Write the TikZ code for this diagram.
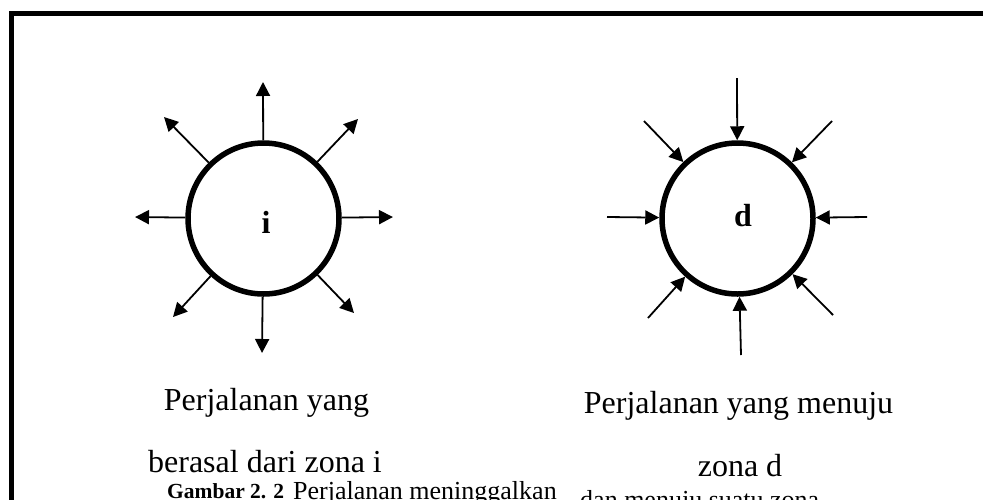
\documentclass[tikz,border=0pt]{standalone}
\usepackage{fontspec}
\setmainfont{Liberation Serif}
\usetikzlibrary{arrows.meta}
\begin{document}
\begin{tikzpicture}[x=1pt,y=-1pt,
  frame/.style={line width=5pt, line join=miter},
  zone/.style={circle, draw, line width=5.5pt, minimum size=151pt, inner sep=0pt},
  zonelbl/.style={font=\fontsize{32}{38}\selectfont\bfseries, anchor=base, inner sep=0pt},
  arr/.style={line width=1.8pt, -{Triangle[length=14pt,width=14pt]}},
  desc/.style={font=\fontsize{32}{38}\selectfont, anchor=base, inner sep=0pt},
  capb/.style={font=\fontsize{21.5}{26}\selectfont\bfseries, anchor=base west, inner sep=0pt},
  capr/.style={font=\fontsize{26}{31}\selectfont, anchor=base west, inner sep=0pt}]
\useasboundingbox (0,0) rectangle (983,499);
\clip (0,0) rectangle (983,499);
\fill[white] (0,0) rectangle (983,499);
% frame
\coordinate (fb) at (11.5,510);
\coordinate (fc) at (11.5,13.5);
\coordinate (fr) at (995,13.5);
\draw[frame] (fb) -- (fc) -- (fr);
% zones
\node[zone] (i) at (263.5,218.5) {};
\node[zone] (d) at (737.5,218.5) {};
\node[zonelbl] (ilbl) at (266,233) {i};
\node[zonelbl] (dlbl) at (743,226) {d};
% outgoing ends for zone i
\coordinate (iN) at (263,82);
\coordinate (iW) at (135,217);
\coordinate (iE) at (393,217);
\coordinate (iS) at (262,353);
\coordinate (iNW) at (164,117);
\coordinate (iNE) at (358,119);
\coordinate (iSW) at (173,317);
\coordinate (iSE) at (354,313);
\foreach \c in {iN,iW,iE,iS,iNW,iNE,iSW,iSE}
  \draw[arr] (i) -- (\c);
% incoming starts for zone d
\coordinate (dN) at (737,78);
\coordinate (dW) at (607,217);
\coordinate (dE) at (867,217);
\coordinate (dS) at (741,355);
\coordinate (dNW) at (644,121);
\coordinate (dNE) at (832,121);
\coordinate (dSW) at (648,318);
\coordinate (dSE) at (833,315);
\foreach \c in {dN,dW,dE,dS,dNW,dNE,dSW,dSE}
  \draw[arr] (\c) -- (d);
% descriptions
\node[desc] (t1) at (266.5,410) {Perjalanan yang};
\node[desc] (t2) at (265,472) {berasal dari zona i};
\node[desc] (t3) at (738.5,413) {Perjalanan yang menuju};
\node[desc] (t4) at (740,476) {zona d};
% caption (cut off by the page edge)
\node[capb] (c1) at (167,498) {Gambar 2. 2};
\node[capr] (c2) at (293,499) {Perjalanan meninggalkan};
\node[capr] (c3) at (580,508) {dan menuju suatu zona};
\end{tikzpicture}
\end{document}
